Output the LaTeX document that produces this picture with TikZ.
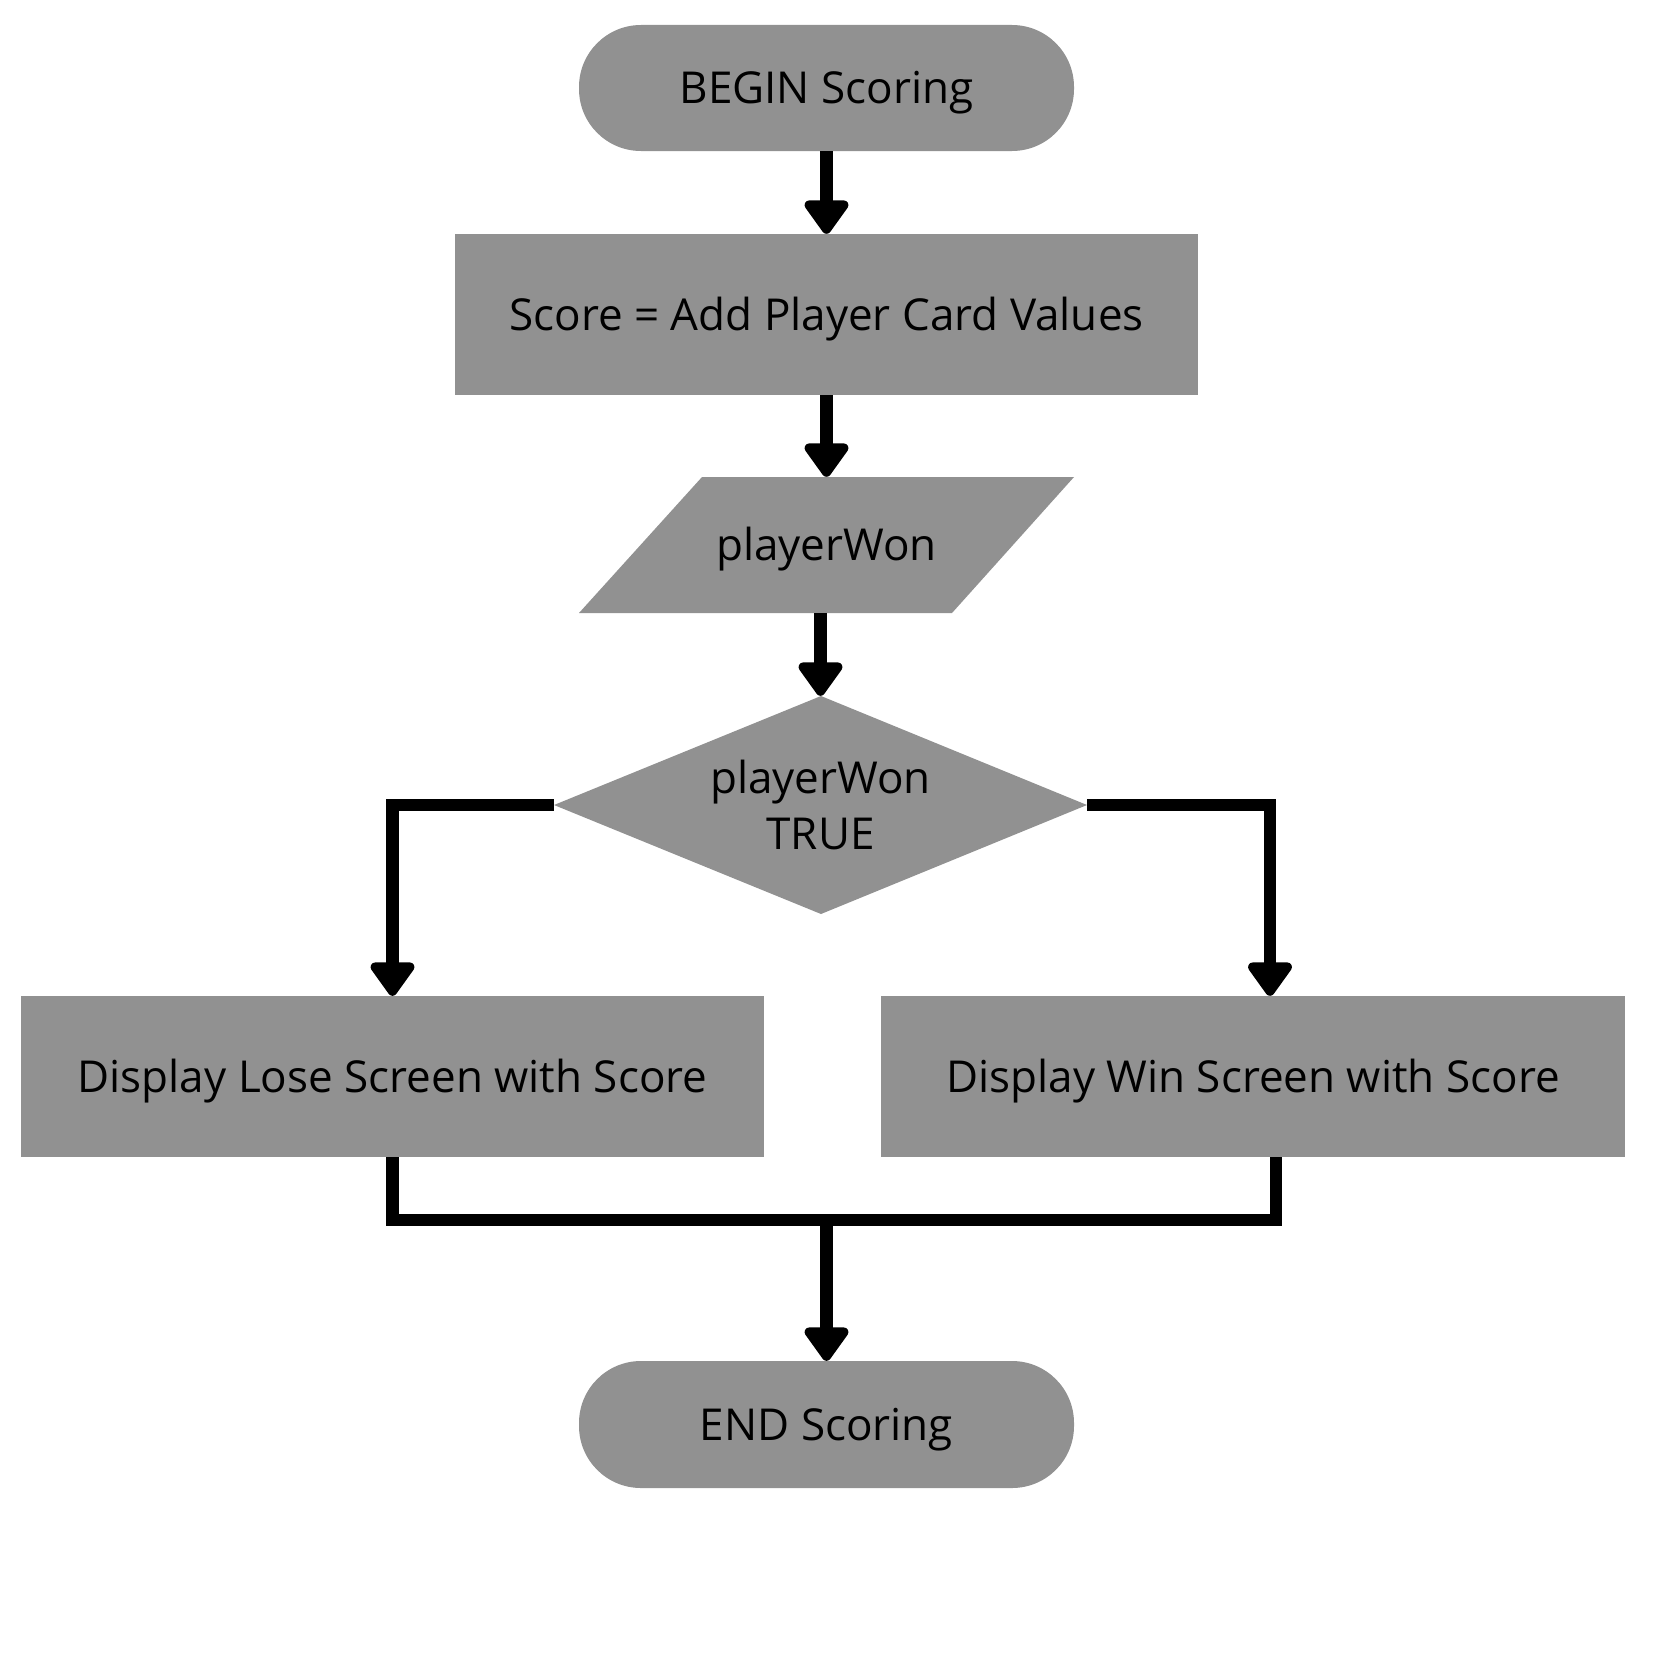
\documentclass[tikz,border=0pt]{standalone}
\usepackage{fontspec}
\setmainfont{Open Sans}
\usetikzlibrary{arrows.meta,calc}
\definecolor{boxgray}{RGB}{145,145,145}
\newcommand\fsz{\fontsize{44bp}{56bp}\selectfont}
\begin{document}
\begin{tikzpicture}[x=1bp,y=-1bp,
  onetext/.style={font=\fsz, text height=31.5bp, text depth=0pt},
  shapebox/.style={fill=boxgray, draw=none, inner sep=0pt, text=black, onetext},
  flow/.style={line width=12.5bp, -{Triangle[width=50bp,length=37bp,round]}},
  link/.style={line width=12.5bp}]
\useasboundingbox (0,0) rectangle (1654,1654);

\node[shapebox, rounded corners=62bp, minimum width=495bp, minimum height=126bp] (begin) at (826.5,88) {BEGIN Scoring};
\node[shapebox, minimum width=743bp, minimum height=161bp] (proc) at (826.5,314.5) {Score = Add Player Card Values};

\fill[boxgray] (702,477) -- (1074,477) -- (952,613) -- (579,613) -- cycle;
\node[inner sep=0pt, minimum width=372bp, minimum height=136bp, onetext] (para) at (826.5,545) {playerWon};

\fill[boxgray] (821,696) -- (1087,805) -- (821,914) -- (554,805) -- cycle;
\node[inner sep=0pt, minimum width=533bp, minimum height=218bp, font=\fsz, align=center] (dia) at (820.5,805) {playerWon\\TRUE};

\node[shapebox, minimum width=743bp, minimum height=161bp] (lose) at (392.5,1076.5) {Display Lose Screen with Score};
\node[shapebox, minimum width=744bp, minimum height=161bp] (win) at (1253,1076.5) {Display Win Screen with Score};
\node[shapebox, rounded corners=62bp, minimum width=495bp, minimum height=127bp] (end) at (826.5,1424.5) {END Scoring};

\coordinate (winin) at ($(win.north)+(17,0)$);
\coordinate (winout) at ($(win.south)+(23,0)$);
\coordinate (join) at (826.5,1220);

\draw[flow] (begin.south) -- (proc.north);
\draw[flow] (proc.south) -- (para.north);
\draw[flow] (para.south -| dia.north) -- (dia.north);
\draw[flow] (dia.west) -| (lose.north);
\draw[flow] (dia.east) -| (winin);
\draw[link] (lose.south) -- (lose.south |- join) -- (winout |- join) -- (winout);
\draw[flow] (join) -- (end.north);
\end{tikzpicture}
\end{document}
